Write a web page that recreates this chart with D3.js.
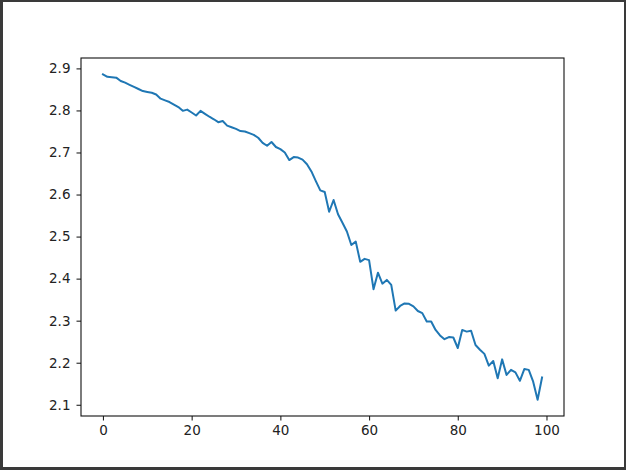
<!DOCTYPE html>
<html>
<head>
<meta charset="utf-8">
<script src="https://cdn.jsdelivr.net/npm/d3@7"></script>
<style>
  body { margin: 0; background: #fff; }
  svg { display: block; }
  .tick text { font-family: "DejaVu Sans", sans-serif; font-size: 13.5px; fill: #222; }
</style>
</head>
<body>
<div class="chart"></div>
<script>
// loss per epoch
var epochs = d3.range(0, 100);
var values = [
  2.886, 2.880, 2.879, 2.878, 2.870, 2.866, 2.861, 2.856, 2.851, 2.846,
  2.844, 2.842, 2.838, 2.828, 2.824, 2.820, 2.814, 2.808, 2.799, 2.802,
  2.795, 2.788, 2.799, 2.792, 2.785, 2.779, 2.772, 2.775, 2.764, 2.760,
  2.756, 2.751, 2.750, 2.746, 2.742, 2.735, 2.723, 2.716, 2.725, 2.713,
  2.708, 2.700, 2.682, 2.689, 2.688, 2.683, 2.672, 2.655, 2.632, 2.610,
  2.606, 2.559, 2.587, 2.553, 2.533, 2.512, 2.480, 2.488, 2.440, 2.447,
  2.444, 2.375, 2.414, 2.388, 2.397, 2.385, 2.324, 2.335, 2.341, 2.340,
  2.334, 2.323, 2.318, 2.298, 2.298, 2.278, 2.265, 2.256, 2.261, 2.260,
  2.235, 2.278, 2.274, 2.276, 2.242, 2.231, 2.221, 2.193, 2.204, 2.163,
  2.208, 2.171, 2.183, 2.177, 2.157, 2.185, 2.183, 2.155, 2.112, 2.165
];
var xTicks = [0, 20, 40, 60, 80, 100];
var yTicks = [2.1, 2.2, 2.3, 2.4, 2.5, 2.6, 2.7, 2.8, 2.9];

var W = 626, H = 470;
var margin = {top: 58, right: 62, bottom: 54, left: 81},
    width = W - margin.left - margin.right,
    height = H - margin.top - margin.bottom;

var svg = d3.select(".chart").append("svg")
    .attr("width", W)
    .attr("height", H);

// dark frame round the picture
svg.append("rect").attr("width", W).attr("height", H).attr("fill", "#3a3a3a");
svg.append("rect").attr("x", 3).attr("y", 2).attr("width", W - 5).attr("height", H - 5).attr("fill", "#fff");

var g = svg.append("g")
    .attr("transform", "translate(" + margin.left + "," + margin.top + ")");

// matplotlib style 5% padding
var xPad = (d3.max(epochs) - d3.min(epochs)) * 0.05;
var yExt = d3.extent(values), yPad = (yExt[1] - yExt[0]) * 0.05;

var x = d3.scaleLinear()
    .domain([d3.min(epochs) - xPad, d3.max(epochs) + xPad])
    .range([0, width]);
var y = d3.scaleLinear()
    .domain([yExt[0] - yPad, yExt[1] + yPad])
    .range([height, 0]);

var xAxis = d3.axisBottom(x).tickValues(xTicks).tickFormat(d3.format("d")).tickSize(4.5).tickPadding(5);
var yAxis = d3.axisLeft(y).tickValues(yTicks).tickFormat(d3.format(".1f")).tickSize(4.5).tickPadding(6);

var line = d3.line()
    .x(function(d, i) { return x(epochs[i]); })
    .y(function(d) { return y(d); });

g.append("path")
    .datum(values)
    .attr("fill", "none")
    .attr("stroke", "#1f77b4")
    .attr("stroke-width", 2)
    .attr("stroke-linejoin", "round")
    .attr("stroke-linecap", "square")
    .attr("d", line);

var ax = g.append("g")
    .attr("transform", "translate(0," + height + ")")
    .call(xAxis);
var ay = g.append("g")
    .call(yAxis);

[ax, ay].forEach(function(a) {
  a.select(".domain").remove();
  a.selectAll(".tick line").attr("stroke", "#222").attr("stroke-width", 1.1);
});

// spines
g.append("rect")
    .attr("width", width)
    .attr("height", height)
    .attr("fill", "none")
    .attr("stroke", "#111")
    .attr("stroke-width", 1.1);
</script>
</body>
</html>
